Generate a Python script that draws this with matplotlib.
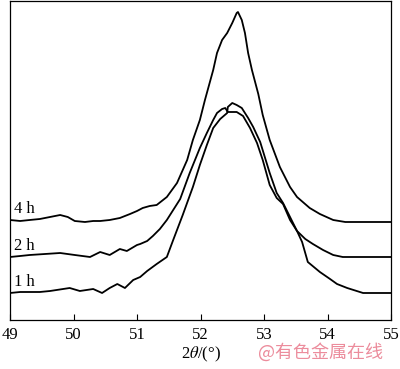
import matplotlib
matplotlib.use("Agg")
import matplotlib.pyplot as plt

# XRD profiles (2theta in degrees, intensity in arbitrary units)
theta_4h = [49.00, 49.16, 49.31, 49.47, 49.63, 49.79, 49.91, 50.02, 50.18, 50.31,
            50.42, 50.57, 50.73, 50.89, 51.00, 51.09, 51.20, 51.31, 51.47, 51.63,
            51.79, 51.88, 51.99, 52.07, 52.20, 52.26, 52.34, 52.42, 52.50, 52.57,
            52.59, 52.65, 52.70, 52.75, 52.81, 52.91, 52.98, 53.09, 53.25, 53.41,
            53.52, 53.72, 53.88, 54.09, 54.28, 54.51, 55.00]
int_4h = [100, 99, 100, 101, 103, 105, 103, 99, 98, 99,
          99, 100, 102, 106, 109, 112, 114, 115, 123, 137,
          160, 180, 200, 220, 250, 267, 280, 287, 297, 307,
          308, 300, 287, 267, 250, 226, 205, 180, 153, 133,
          123, 112, 106, 100, 98, 98, 98]

theta_2h = [49.00, 49.16, 49.31, 49.55, 49.79, 50.02, 50.26, 50.42, 50.57, 50.73,
            50.84, 51.00, 51.05, 51.16, 51.25, 51.36, 51.47, 51.57, 51.68, 51.83,
            51.99, 52.10, 52.20, 52.26, 52.34, 52.39, 52.43, 52.57, 52.67, 52.78,
            52.89, 52.98, 53.09, 53.20, 53.30, 53.41, 53.52, 53.65, 53.77, 53.93,
            54.09, 54.24, 55.00]
int_2h = [63, 64, 65, 66, 67, 65, 63, 68, 65, 71,
          69, 75, 76, 79, 84, 91, 100, 110, 121, 147,
          172, 187, 200, 207, 211, 212, 208, 208, 204, 192,
          177, 160, 135, 122, 116, 100, 89, 81, 76, 70,
          65, 63, 63]

theta_1h = [49.00, 49.16, 49.47, 49.63, 49.94, 50.10, 50.31, 50.45, 50.57, 50.69,
            50.81, 50.94, 51.05, 51.16, 51.31, 51.47, 51.57, 51.72, 51.88, 51.99,
            52.10, 52.20, 52.31, 52.42, 52.43, 52.50, 52.57, 52.65, 52.75, 52.83,
            52.94, 53.09, 53.20, 53.30, 53.41, 53.52, 53.60, 53.69, 53.88, 54.04,
            54.15, 54.31, 54.56, 55.00]
int_1h = [27, 28, 28, 29, 32, 29, 31, 27, 32, 36,
          32, 40, 43, 49, 56, 63, 80, 105, 133, 155,
          175, 192, 201, 207, 213, 217, 215, 212, 202, 193,
          178, 147, 127, 117, 103, 89, 78, 58, 48, 41,
          36, 32, 27, 27]

labels = ["4 h", "2 h", "1 h"]
xticks = [49, 50, 51, 52, 53, 54, 55]

plt.rcParams["font.family"] = ["Liberation Serif", "DejaVu Serif"]
plt.rcParams["mathtext.fontset"] = "stix"

fig = plt.figure(figsize=(4.0, 3.69), dpi=100)
ax = fig.add_axes([0.025, 0.1328, 0.9525, 0.8645])

for th, it in [(theta_4h, int_4h), (theta_2h, int_2h), (theta_1h, int_1h)]:
    ax.plot(th, it, color="black", lw=1.3, solid_joinstyle="round")

# curve labels
for lab, yv in zip(labels, [111, 74, 38]):
    ax.text(49.07, yv, lab, fontsize=12, ha="left", va="center")

ax.set_xlim(49, 55)
ax.set_ylim(0, 319)
ax.set_xticks(xticks)
ax.set_xticklabels([str(t) for t in xticks], fontsize=12)
ax.set_yticks([])
ax.tick_params(axis="x", direction="in", length=4, width=0.8, pad=5)
for s in ax.spines.values():
    s.set_linewidth(0.9)

ax.set_xlabel(r"2$\it{\theta}$/(°)", fontsize=12, labelpad=1)

# watermark
fig.text(0.645, 0.044, "@有色金属在线", fontsize=13, color="#ec8c9c",
         family=["Noto Sans CJK SC", "DejaVu Sans"], ha="left", va="center")

fig.savefig("out.png", dpi=100)
